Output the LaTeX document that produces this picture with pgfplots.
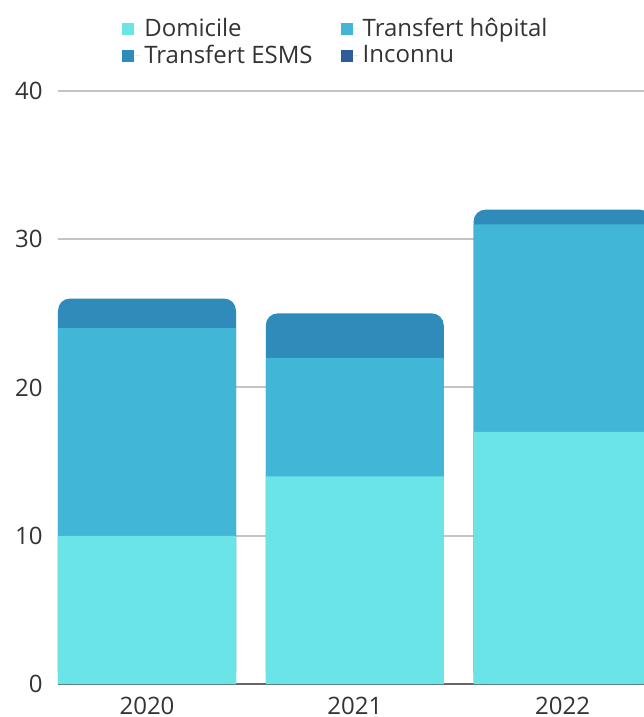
\documentclass[border=0pt]{standalone}
\usepackage{pgfplots}
\pgfplotsset{compat=1.18}
\usepackage{fontspec}
\setmainfont{Open Sans}
\definecolor{cdom}{HTML}{6BE4E8}
\definecolor{chop}{HTML}{41B6D6}
\definecolor{cesms}{HTML}{2E8BBA}
\definecolor{cinc}{HTML}{2D5E9A}
\definecolor{gridgray}{HTML}{C4C4C4}
\definecolor{txt}{HTML}{333333}
\begin{document}
\begin{tikzpicture}
\begin{axis}[
    name=ax, at={(0,0)}, anchor=south west,
    scale only axis, width=297.1pt, height=296.5pt,
    xmin=-0.43, xmax=2.43, ymin=0, ymax=40,
    xtick={0,1,2}, xticklabels={2020,2021,2022},
    ytick={0,10,20,30,40},
    major tick length=0pt,
    axis x line*=bottom, axis y line*=left,
    axis line style={-},
    x axis line style={draw=gray!80!black, line width=0.6pt},
    y axis line style={draw=none},
    ymajorgrids, grid style={draw=gridgray, line width=1pt},
    tick label style={font=\fontsize{12}{14}\selectfont, text=txt},
    /pgf/number format/assume math mode=true,
    yticklabel style={xshift=-4pt},
    xticklabel style={yshift=-3pt},
    legend image code/.code={\fill[#1] (0pt,-3pt) rectangle (6pt,3pt); \path (0pt,0pt) -- (9pt,0pt);},
    legend columns=2,
    legend cell align=left,
    legend style={draw=none, fill=none, at={(0.47,1)}, anchor=south, yshift=8pt,
        font=\fontsize{12}{14}\selectfont, text=txt,
        /tikz/every even column/.append style={column sep=12pt},
        row sep=-1pt},
]
\addlegendimage{fill=cdom, draw=none}
\addlegendentry{Domicile}
\addlegendimage{fill=chop, draw=none}
\addlegendentry{Transfert hôpital}
\addlegendimage{fill=cesms, draw=none}
\addlegendentry{Transfert ESMS}
\addlegendimage{fill=cinc, draw=none}
\addlegendentry{Inconnu}
% totals (top segment, rounded), then cumulative layers drawn over them
\addplot[ybar, bar width=89pt, /pgf/bar shift=0pt, fill=cesms, draw=none,
    rounded corners=6pt, forget plot]
    coordinates {(0,26) (1,25) (2,32)};
\addplot[ybar, bar width=89pt, /pgf/bar shift=0pt, fill=chop, draw=none, forget plot]
    coordinates {(0,24) (1,22) (2,31)};
\addplot[ybar, bar width=89pt, /pgf/bar shift=0pt, fill=cdom, draw=none, forget plot]
    coordinates {(0,10) (1,14) (2,17)};
\end{axis}
\pgfresetboundingbox
\path[use as bounding box] ([shift={(-28.83pt,-16.5pt)}]ax.south west)
    rectangle ([shift={(292.67pt,342pt)}]ax.south west);
\end{tikzpicture}
\end{document}
